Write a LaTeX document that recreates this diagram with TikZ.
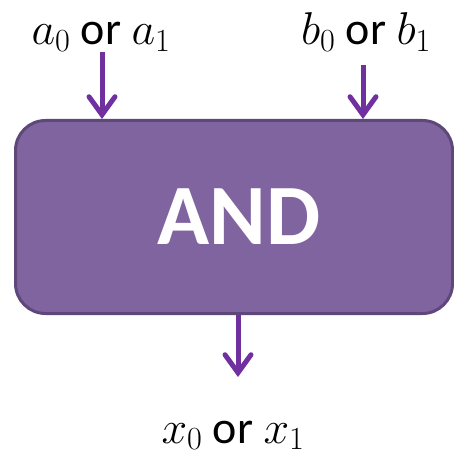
\RequirePackage{fix-cm}
\documentclass[tikz,border=0pt]{standalone}
\usepackage{fontspec}
\setmainfont{Carlito}
\usepackage{tikz}
\usetikzlibrary{arrows.meta}
\definecolor{gatepurple}{RGB}{128, 100, 160}
\definecolor{gateedge}{RGB}{94, 72, 122}
\definecolor{wirepurple}{RGB}{112, 48, 160}

\begin{document}
\begin{tikzpicture}[x=1pt, y=-1pt, >={Straight Barb[line cap=round, line join=miter, length=18pt, width=26pt]}]
    \tikzset{
        wire/.style={->, wirepurple, line width=5pt},
        sig/.style={font=\fontsize{46}{54}\selectfont, inner sep=0pt, anchor=base}
    }
    \useasboundingbox (0,0) rectangle (454,457);

    \node[draw=gateedge, line width=3pt, fill=gatepurple, rounded corners=30pt,
          minimum width=437pt, minimum height=193pt, inner sep=0pt,
          text=white, font=\fontsize{86}{96}\selectfont\bfseries] (gate) at (234,217) {\hspace*{10pt}AND};

    \node[sig] (ain) at (101,45) {$a_0$ or $a_1$};
    \node[sig] (bin) at (366,45) {$b_0$ or $b_1$};
    \node[sig] (xout) at (233,443) {$x_0$ or $x_1$};

    \coordinate (atop) at (102,52);
    \coordinate (btop) at (363,65);
    \coordinate (xend) at (238,377);

    \draw[wire] (atop) -- (atop |- gate.north);
    \draw[wire] (btop) -- (btop |- gate.north);
    \draw[wire] (xend |- gate.south) -- (xend);
\end{tikzpicture}
\end{document}
